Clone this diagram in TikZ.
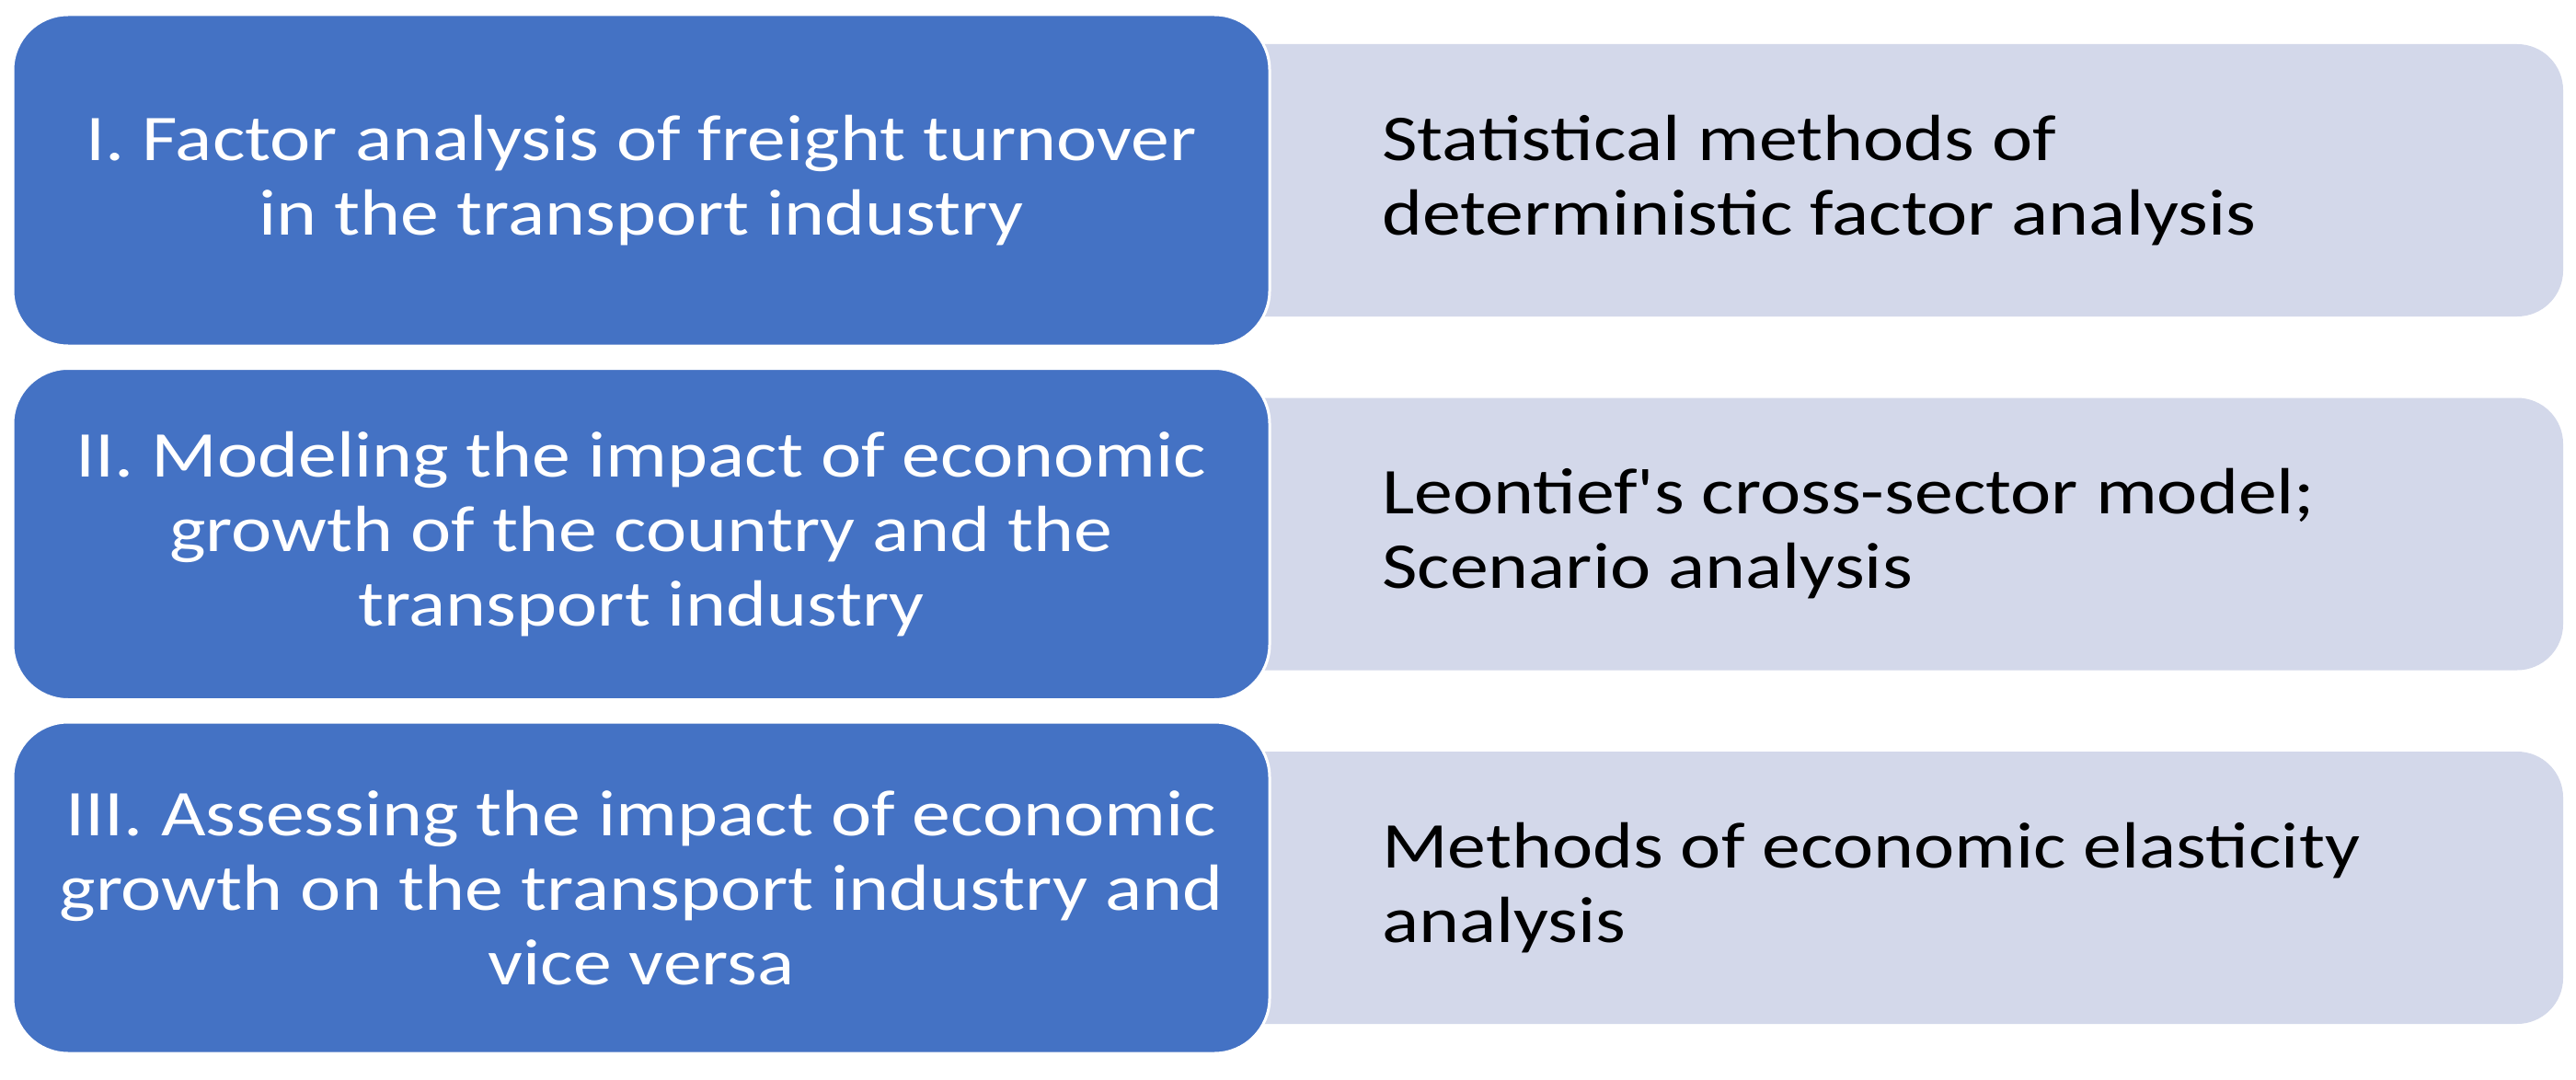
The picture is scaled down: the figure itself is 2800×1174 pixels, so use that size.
\documentclass[tikz,border=0pt]{standalone}
\usepackage{fontspec}
\setmainfont{Carlito}[FakeStretch=1.18, Ligatures=TeXOff]
\definecolor{boxblue}{RGB}{68,114,196}
\definecolor{boxgray}{RGB}{211,216,234}
\tikzset{
  bluebox/.style={draw=white, line width=3pt, fill=boxblue, rounded corners=60pt,
    minimum width=1366pt, minimum height=360pt, inner sep=0pt, text=white,
    align=center, font=\fontsize{71}{81}\selectfont},
  graybox/.style={draw=none, fill=boxgray, rounded corners=50pt,
    minimum width=1486pt, minimum height=296pt, inner sep=0pt},
  graytext/.style={anchor=west, align=left, text=black, inner sep=0pt,
    font=\fontsize{71}{81}\selectfont}
}
\begin{document}
\begin{tikzpicture}[x=1pt,y=-1pt]
\useasboundingbox (0,0) rectangle (2800,1174);
\fill[white] (0,0) rectangle (2800,1174);
% gray boxes
\node[graybox] (g1) at (2043,196) {};
\node[graybox] (g2) at (2043,580.5) {};
\node[graybox] (g3) at (2043,965) {};
% blue boxes
\node[bluebox] (b1) at (697,196) {I. Factor analysis of freight turnover\\in the transport industry};
\node[bluebox] (b2) at (697,580.5) {II. Modeling the impact of economic\\growth of the country and the\\transport industry};
\node[bluebox] (b3) at (697,965) {III. Assessing the impact of economic\\growth on the transport industry and\\vice versa};
% gray texts
\node[graytext] (t1) at (1502,196) {Statistical methods of\\deterministic factor analysis};
\node[graytext] (t2) at (1502,580.5) {Leontief's cross-sector model;\\Scenario analysis};
\node[graytext] (t3) at (1502,965) {Methods of economic elasticity\\analysis};
\end{tikzpicture}
\end{document}
